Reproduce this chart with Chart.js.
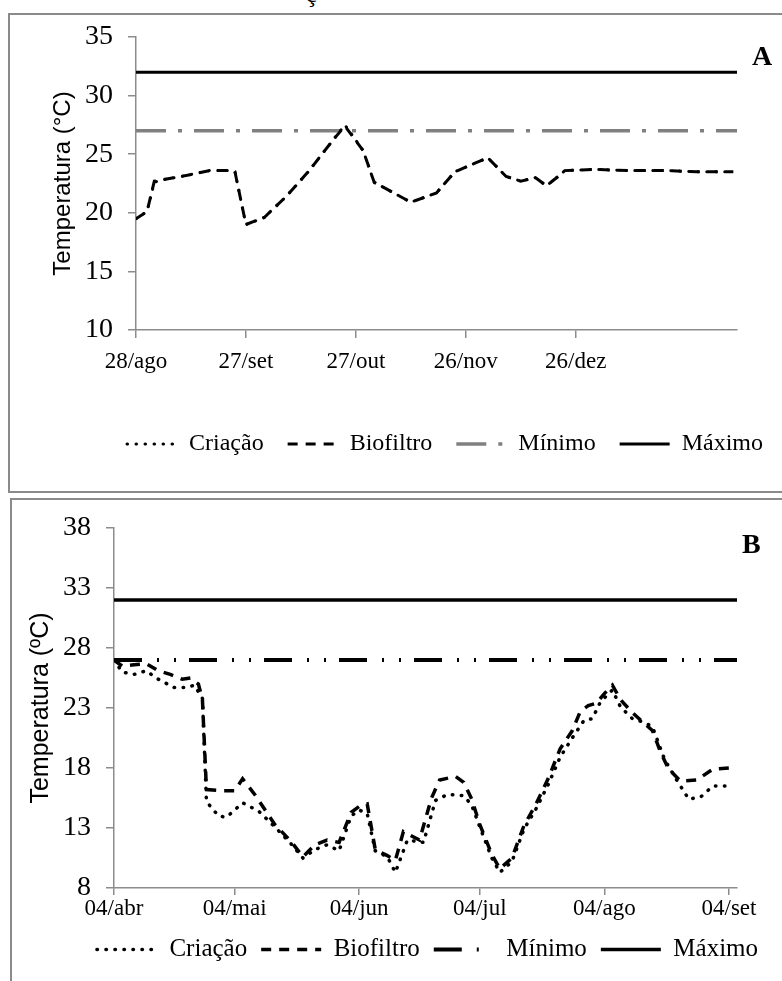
<!DOCTYPE html>
<html>
<head>
<meta charset="utf-8">
<script src="https://cdn.jsdelivr.net/npm/chart.js@4.4.1/dist/chart.umd.min.js"></script>
<style>
  body { margin: 0; background: #fff; width: 782px; height: 981px; overflow: hidden; position: relative; }
  .frame { position: absolute; border: 2px solid #8a8a8a; box-sizing: border-box; }
  #fa { left: 8px; top: 13px; width: 800px; height: 480px; }
  #fb { left: 10px; top: 498px; width: 800px; height: 520px; }
  canvas { position: absolute; left: 0; }
  #ca { top: 0; }
  #cb { top: 480px; }
  .tag { position: absolute; font: bold 28px "Liberation Serif", serif; }
</style>
</head>
<body>
<span style="position:absolute;left:306px;top:-19px;font:24px 'Liberation Serif',serif">ç</span>
<div class="frame" id="fa"></div>
<div class="frame" id="fb"></div>
<canvas id="ca" width="782" height="495"></canvas>
<canvas id="cb" width="782" height="520"></canvas>
<div class="tag" style="left:752px;top:40px">A</div>
<div class="tag" style="left:742px;top:528px">B</div>
<script>
// Painel A: dias a partir de 28/ago
const daysA = [0, 3, 5, 7, 14, 20, 25, 27, 30, 35, 41, 47, 54, 57, 62, 65, 75, 82, 87, 96, 101, 105, 109, 112, 116, 117, 125, 135, 145, 153, 163];
const criacaoA = [19.5, 20.1, 22.6, 22.8, 23.2, 23.6, 23.6, 23.5, 19.0, 19.6, 21.4, 23.5, 26.3, 27.5, 25.3, 22.6, 20.9, 21.7, 23.5, 24.7, 23.1, 22.7, 23.0, 22.3, 23.3, 23.6, 23.7, 23.6, 23.6, 23.5, 23.5];
const biofiltroA = [19.5, 20.1, 22.7, 22.8, 23.2, 23.6, 23.6, 23.5, 19.0, 19.6, 21.4, 23.5, 26.3, 27.4, 25.3, 22.6, 20.9, 21.7, 23.5, 24.7, 23.1, 22.7, 23.0, 22.3, 23.3, 23.6, 23.7, 23.6, 23.6, 23.5, 23.5];
const minimoA = 27;
const maximoA = 32;
const tickDaysA = [0, 30, 60, 90, 120];
const tickLabelsA = ['28/ago', '27/set', '27/out', '26/nov', '26/dez'];

// Painel B: dias a partir de 04/abr
const daysBc = [0, 2, 5, 8, 11, 15, 18, 20, 22, 23, 26, 28, 32, 36, 40, 44, 47, 50, 53, 56, 59, 61, 63, 65, 68, 70, 73, 77, 80, 83, 87, 89, 91, 94, 96, 99, 102, 105, 108, 111, 114, 117, 119, 121, 124, 126, 129, 132, 134, 137, 140, 143, 146, 149, 153];
const criacaoB = [27.0, 26.0, 25.8, 26.1, 25.4, 24.7, 24.7, 24.9, 23.8, 15.2, 14.0, 13.9, 15.1, 14.4, 13.1, 11.7, 10.5, 11.2, 11.6, 11.1, 14.0, 14.5, 14.2, 11.1, 10.6, 9.3, 12.0, 11.8, 15.3, 15.8, 15.7, 14.9, 13.1, 10.5, 9.3, 10.2, 12.9, 14.6, 16.6, 18.9, 20.5, 22.0, 22.1, 23.5, 24.5, 23.1, 22.1, 21.8, 21.4, 18.7, 17.0, 15.4, 15.6, 16.5, 16.5];
const daysBb = [0, 2, 5, 8, 11, 14, 17, 19, 21, 22, 23, 27, 30, 32, 35, 40, 44, 47, 50, 53, 56, 59, 61, 63, 65, 68, 70, 72, 76, 79, 81, 85, 87, 89, 91, 94, 96, 99, 102, 105, 108, 111, 114, 116, 118, 120, 122, 124, 126, 129, 132, 134, 136, 138, 141, 145, 149, 153];
const biofiltroB = [27.0, 26.5, 26.6, 26.7, 26.1, 25.8, 25.4, 25.5, 25.0, 23.7, 16.2, 16.1, 16.1, 17.1, 15.8, 13.3, 11.9, 10.6, 11.6, 12.0, 11.8, 14.3, 14.8, 15.0, 11.2, 10.7, 10.3, 12.7, 12.0, 15.5, 17.0, 17.3, 16.8, 15.4, 13.3, 10.8, 9.6, 10.5, 13.2, 15.0, 17.1, 19.6, 21.1, 22.7, 23.2, 23.4, 24.2, 24.9, 23.7, 22.6, 21.7, 21.1, 19.3, 17.9, 16.9, 17.0, 17.9, 18.0];
const minimoB = 27;
const maximoB = 32;
const tickDaysB = [0, 30, 61, 91, 122, 153];
const tickLabelsB = ['04/abr', '04/mai', '04/jun', '04/jul', '04/ago', '04/set'];

const serif = '"Liberation Serif", "Times New Roman", serif';
const axisGray = '#8c8c8c';

function pts(days, vals) {
  return days.map((d, i) => ({ x: d, y: vals[i] }));
}

// nudge the legend box like in the original figure
const shiftLegend = {
  id: 'shiftLegend',
  afterLayout(chart, args, opts) {
    const lg = chart.legend;
    lg.left += opts.dx; lg.right += opts.dx;
    lg.top += opts.dy; lg.bottom += opts.dy;
  }
};

function makeChart(id, o) {
  return new Chart(document.getElementById(id), {
    type: 'line',
    data: {
      datasets: [
        { label: 'Criação', data: pts(o.daysC, o.criacao), borderColor: '#000', borderWidth: o.lw,
          borderDash: [0.5, 8.5], borderCapStyle: 'round', pointRadius: 0 },
        { label: 'Biofiltro', data: pts(o.daysB, o.biofiltro), borderColor: '#000', borderWidth: o.lw,
          borderDash: [10, 8], pointRadius: 0 },
        { label: 'Mínimo', data: [{ x: 0, y: o.min }, { x: o.xMax, y: o.min }], borderColor: o.minColor,
          borderWidth: o.lw + 0.5, borderDash: o.minDash, pointRadius: 0 },
        { label: 'Máximo', data: [{ x: 0, y: o.max }, { x: o.xMax, y: o.max }], borderColor: '#000',
          borderWidth: o.lw, pointRadius: 0 }
      ]
    },
    options: {
      responsive: false,
      animation: false,
      layout: { padding: o.pad },
      plugins: {
        tooltip: { enabled: false },
        shiftLegend: { dx: o.legendDx, dy: o.legendDy },
        legend: {
          position: 'bottom',
          labels: {
            usePointStyle: true, pointStyleWidth: o.legendBox, boxHeight: 4,
            color: '#000', font: { family: serif, size: o.legendFont }, padding: o.legendPad,
            generateLabels: chart => chart.data.datasets.map((ds, i) => ({
              text: ds.label, datasetIndex: i, hidden: false, pointStyle: 'line',
              fillStyle: ds.borderColor, strokeStyle: ds.borderColor, lineWidth: ds.borderWidth,
              lineDash: ds.borderDash || [], lineCap: ds.borderCapStyle || 'butt', fontColor: '#000'
            }))
          }
        }
      },
      scales: {
        x: {
          type: 'linear', min: 0, max: o.xMax,
          afterBuildTicks: s => { s.ticks = o.tickDays.map(v => ({ value: v })); },
          afterFit: s => { s.height = o.xH; },
          ticks: {
            autoSkip: false, maxRotation: 0, color: '#000', padding: o.xTickPad,
            font: { family: serif, size: 23 },
            callback: v => o.tickLabels[o.tickDays.indexOf(v)]
          },
          grid: { drawOnChartArea: false, tickLength: o.xTickLen, color: axisGray, lineWidth: 1.5 },
          border: { color: axisGray, width: 1.5 }
        },
        y: {
          min: o.yMin, max: o.yMax,
          afterFit: s => { s.width = o.yW; s.paddingTop = 0; },
          ticks: { stepSize: 5, color: '#000', padding: 15, font: { family: serif, size: 28 } },
          grid: { drawOnChartArea: false, tickLength: 8, color: axisGray, lineWidth: 1.5 },
          border: { color: axisGray, width: 1.5 },
          title: { display: true, text: o.yTitle, color: '#000', padding: { top: 4, bottom: 4 },
            font: { family: '"Liberation Sans", Arial, sans-serif', size: o.titleSize } }
        }
      }
    },
    plugins: [shiftLegend]
  });
}

makeChart('ca', {
  daysC: daysA, criacao: criacaoA, daysB: daysA, biofiltro: biofiltroA,
  min: minimoA, max: maximoA, minColor: '#808080', minDash: [30, 12, 4, 12], lw: 3,
  xMax: 164, tickDays: tickDaysA, tickLabels: tickLabelsA,
  yMin: 10, yMax: 35, yTitle: 'Temperatura (°C)', titleSize: 24,
  pad: { top: 37, left: 45, right: 45, bottom: 29 }, yW: 91, xH: 78, xTickPad: 10, xTickLen: 8,
  legendBox: 50, legendPad: 24, legendFont: 24, legendDx: 54, legendDy: 0
});

makeChart('cb', {
  daysC: daysBc, criacao: criacaoB, daysB: daysBb, biofiltro: biofiltroB,
  min: minimoB, max: maximoB, minColor: '#000', minDash: [28, 15, 2, 15, 2, 13], lw: 3.5,
  xMax: 155, tickDays: tickDaysB, tickLabels: tickLabelsB,
  yMin: 8, yMax: 38, yTitle: 'Temperatura (ºC)', titleSize: 25,
  pad: { top: 48, left: 22, right: 45, bottom: 28 }, yW: 92, xH: 35, xTickPad: 0, xTickLen: 7,
  legendBox: 60, legendPad: 14, legendFont: 25, legendDx: 48, legendDy: 0
});
</script>
</body>
</html>
